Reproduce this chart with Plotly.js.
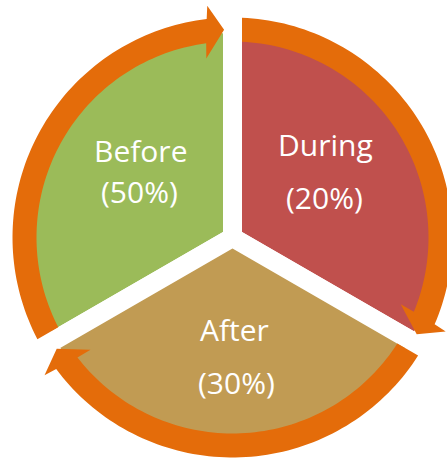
<!DOCTYPE html>
<html>
<head>
<meta charset="utf-8">
<script src="https://cdn.plot.ly/plotly-3.0.1.min.js"></script>
<style>html,body{margin:0;padding:0;background:#fff;overflow:hidden}</style>
</head>
<body>
<div id="chart" style="width:447px;height:459px"></div>
<script>
// ---- data ----
const categories = ['Before', 'During', 'After'];
const shares = [50, 20, 30];          // percentages printed in the labels
const segments = [1, 1, 1];           // the cycle is drawn as three equal stages
const sliceColors = ['#9BBB59', '#C0504D', '#C19B53'];

// ---- layout constants (pixels) ----
const W = 447, H = 459;
const CX = 232.5, CY = 237.5;         // pie centre
const RP = 214;                       // pie radius
const GAP = 19;                       // white gap between slices
const RI = 196, RO = 220, RC = (RI + RO) / 2;  // arrow ring
const ARROW_IN = 181, ARROW_OUT = 233;
const ROTATION = -120;
const ORANGE = '#E46C0A';
// label line centres [x, y] for name and percentage lines
const labelPos = [
  [[140.5, 150.7], [139, 191.7]],
  [[325, 144.4], [324, 197.7]],
  [[234.5, 329.4], [236, 382.4]]
];

const deg = Math.PI / 180;
const asinDeg = v => Math.asin(v) / deg;
function pt(r, a) { return [CX + r * Math.cos(a * deg), CY - r * Math.sin(a * deg)]; }
function P(p) { return (p[0] / W).toFixed(5) + ',' + (1 - p[1] / H).toFixed(5); }

const total = segments.reduce((a, b) => a + b, 0);
const startMath = 90 - ROTATION;
let cum = 0;
const shapes = segments.map((v, k) => {
  const a0 = startMath - 360 * cum / total;
  cum += v;
  const a1 = startMath - 360 * cum / total;
  const half = GAP / 2;
  const sIn = a0 - asinDeg(half / RI), sOut = a0 - asinDeg(half / RO);
  const tip = a1 + asinDeg(half / RC) - 0.3;
  const backIn = tip + 6.0, backOut = tip + 3.9;
  const backAt = r => backIn + (backOut - backIn) * (r - ARROW_IN) / (ARROW_OUT - ARROW_IN);
  const eOut = backAt(RO), eIn = backAt(RI);
  const pts = [pt(RI, sIn), pt(RO, sOut)];
  const N = 80;
  for (let i = 1; i <= N; i++) pts.push(pt(RO, sOut + (eOut - sOut) * i / N));
  pts.push(pt(ARROW_OUT, backOut));
  pts.push(pt(RC, tip));
  pts.push(pt(ARROW_IN, backIn));
  pts.push(pt(RI, eIn));
  for (let i = 1; i < N; i++) pts.push(pt(RI, eIn + (sIn - eIn) * i / N));
  return {
    type: 'path', xref: 'paper', yref: 'paper', layer: 'above',
    path: 'M' + pts.map(P).join(' L') + ' Z',
    fillcolor: ORANGE, line: {width: 0}
  };
});

const annotations = [];
categories.forEach((c, k) => {
  const texts = [c, '(' + shares[k] + '%)'];
  texts.forEach((t, j) => {
    const p = labelPos[k][j];
    annotations.push({
      text: t, xref: 'paper', yref: 'paper',
      x: p[0] / W, y: 1 - p[1] / H, xanchor: 'center', yanchor: 'middle',
      showarrow: false,
      font: {family: 'Open Sans', size: 30, color: '#FFFFFF'}
    });
  });
});

const trace = {
  type: 'pie',
  labels: categories,
  values: segments,
  sort: false,
  direction: 'clockwise',
  rotation: ROTATION,
  textinfo: 'none',
  hoverinfo: 'skip',
  marker: {colors: sliceColors, line: {color: '#FFFFFF', width: GAP}},
  domain: {x: [(CX - RP) / W, (CX + RP) / W], y: [1 - (CY + RP) / H, 1 - (CY - RP) / H]}
};

Plotly.newPlot('chart', [trace], {
  width: W, height: H,
  margin: {l: 0, r: 0, t: 0, b: 0, pad: 0},
  paper_bgcolor: '#FFFFFF',
  showlegend: false,
  shapes: shapes,
  annotations: annotations
}, {displayModeBar: false, staticPlot: true});
</script>
</body>
</html>
